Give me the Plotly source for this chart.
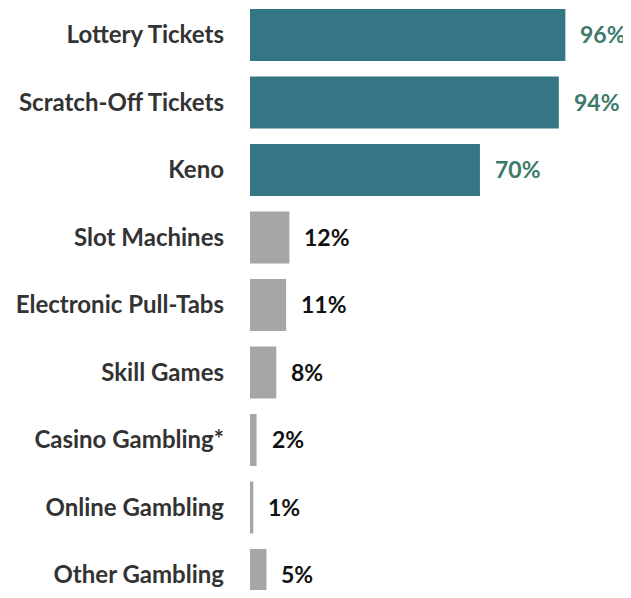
import plotly.graph_objects as go

categories = ['Lottery Tickets', 'Scratch-Off Tickets', 'Keno', 'Slot Machines',
              'Electronic Pull-Tabs', 'Skill Games', 'Casino Gambling*',
              'Online Gambling', 'Other Gambling']
values = [96, 94, 70, 12, 11, 8, 2, 1, 5]
highlighted = [True, True, True, False, False, False, False, False, False]

BAR_TEAL = '#347683'
BAR_GREY = '#a6a6a6'
TEXT_TEAL = '#3d7a6c'
TEXT_DARK = '#111111'
FONT = 'Lato'

bar_colours = [BAR_TEAL if h else BAR_GREY for h in highlighted]
label_colours = [TEXT_TEAL if h else TEXT_DARK for h in highlighted]

fig = go.Figure(go.Bar(
    x=values,
    y=categories,
    orientation='h',
    marker=dict(color=bar_colours, line=dict(width=0)),
    width=0.77,
    hoverinfo='skip',
))

for cat, val, col in zip(categories, values, label_colours):
    fig.add_annotation(x=val, y=cat, text=f'<b>{val}%</b>', showarrow=False,
                       xanchor='left', yanchor='middle', xshift=13, yshift=1,
                       font=dict(family=FONT, size=23, color=col))

# page has an 8px body margin: fill the width, keep the height inside the window
fig.update_layout(
    width=623, height=582,
    margin=dict(l=242, r=0, t=0, b=0),
    paper_bgcolor='white', plot_bgcolor='white',
    showlegend=False,
    font=dict(family=FONT),
)
fig.update_xaxes(range=[0, 381 / 3.285], visible=False, showgrid=False, zeroline=False)
fig.update_yaxes(range=[8.222, -0.4], showgrid=False, zeroline=False, showline=False,
                 ticks='', ticklabelstandoff=25,
                 tickfont=dict(family=FONT, size=24, color='#333333', weight='bold'))

fig.write_html('out.html')
